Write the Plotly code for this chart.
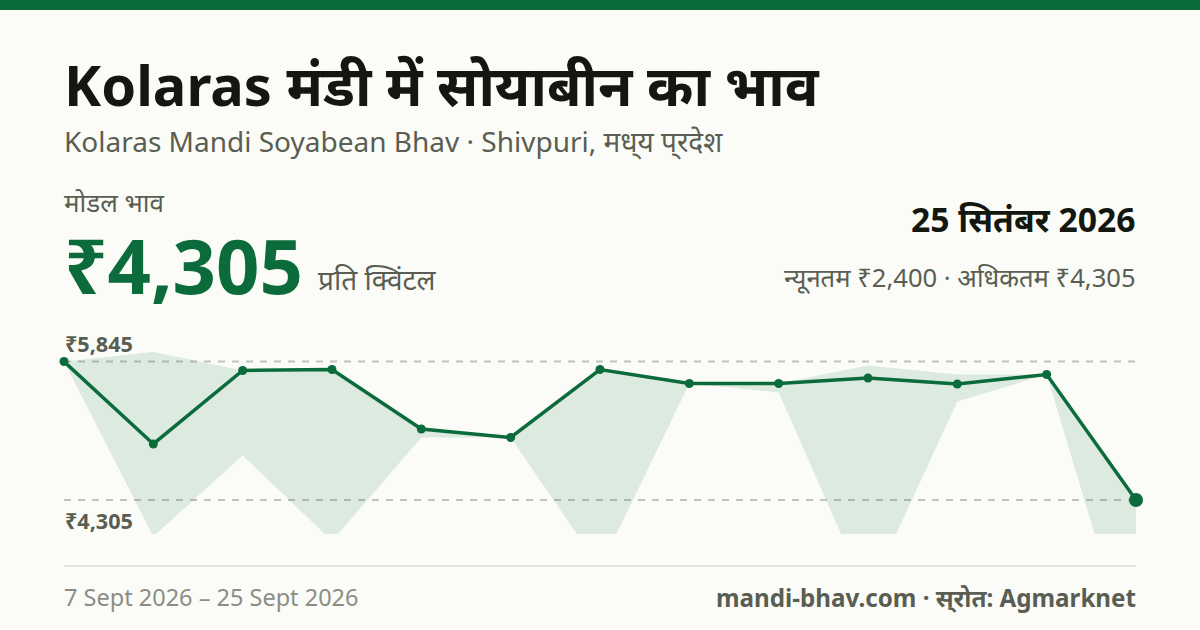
import plotly.graph_objects as go

# Data
sessions = list(range(13))
modal = [5845, 4928, 5745, 5756, 5095, 5000, 5756, 5600, 5600, 5662, 5595, 5700, 4305]
upper = [5845, 5950, 5745, 5756, 5095, 5000, 5756, 5600, 5600, 5800, 5700, 5700, 4305]
lower = [5845, 3900, 4800, 3850, 5000, 5000, 3550, 5600, 5500, 3250, 5400, 5700, 2400]
ref_high = 5845
ref_low = 4305
title = "Kolaras मंडी में सोयाबीन का भाव"
subtitle = "Kolaras Mandi Soyabean Bhav · Shivpuri, मध्\u200cय प्\u200cरदेश"
modal_label = "मोडल भाव"
headline = "₹4,305"
unit = "प्रति क्विंटल"
date_label = "25 सितंबर 2026"
range_label = "न्यूनतम ₹2,400 · अधिकतम ₹4,305"
period = "7 Sept 2026 – 25 Sept 2026"
source = "mandi-bhav.com · स्\u200cरोत: Agmarknet"

W, H = 1200, 630
L, R, T, B = 64, 1136, 340, 534
Y_HI, Y_LO = 361.5, 500
GREEN = "#0b6b3a"
BG = "#fbfcf8"
FONT = "Noto Sans, Noto Sans Devanagari, sans-serif"

per_px = (ref_high - ref_low) / (Y_LO - Y_HI)
y_range = [ref_low - (B - Y_LO) * per_px, ref_high + (Y_HI - T) * per_px]

px = lambda x: (x - L) / (R - L)
py = lambda y: (B - y) / (B - T)

fig = go.Figure()
fig.add_trace(go.Scatter(x=sessions, y=upper, mode="lines", line=dict(width=0),
                         hoverinfo="skip", showlegend=False))
fig.add_trace(go.Scatter(x=sessions, y=lower, mode="lines", line=dict(width=0),
                         fill="tonexty", fillcolor="rgba(11,107,58,0.12)",
                         hoverinfo="skip", showlegend=False))
for level in (ref_high, ref_low):
    fig.add_trace(go.Scatter(x=[sessions[0], sessions[-1]], y=[level, level], mode="lines",
                             line=dict(color="rgba(90,94,82,0.36)", width=2, dash="7px 7px"),
                             hoverinfo="skip", showlegend=False))
fig.add_trace(go.Scatter(x=sessions, y=modal, mode="lines+markers", cliponaxis=False,
                         line=dict(color=GREEN, width=3.5),
                         marker=dict(color=GREEN, size=[9] * 12 + [14], opacity=1, line=dict(width=0)),
                         showlegend=False))


def text(s, x, y, size, color, bold=False, anchor="left"):
    fig.add_annotation(x=px(x), y=py(y), xref="paper", yref="paper", text=f"<b>{s}</b>" if bold else s,
                       showarrow=False, xanchor=anchor, yanchor="middle", borderpad=0, borderwidth=0,
                       font=dict(family=FONT, size=size, color=color))


DARK = "#141710"
GREY = "#5a5e52"
text(title, 64, 84, 56, DARK, True)
text(subtitle, 64, 141, 28, GREY)
text(modal_label, 64, 202, 26, GREY)
text(headline, 64, 264, 76, GREEN, True)
text(unit, 318, 279, 28, GREY)
text(date_label, 1136, 219, 33.7, DARK, True, "right")
text(range_label, 1136, 277, 25.6, GREY, False, "right")
text(f"₹{ref_high:,}", 64.5, 343, 21.6, GREY, True)
text(f"₹{ref_low:,}", 64.5, 520, 21.6, GREY, True)
text(period, 64, 597, 23.5, "#8a8e84")
text(source, 1136, 597, 24.2, GREY, True, "right")

fig.add_shape(type="rect", xref="paper", yref="paper", x0=px(0), x1=px(W), y0=py(10), y1=py(0),
              fillcolor=GREEN, line_width=0)
fig.add_shape(type="line", xref="paper", yref="paper", x0=0, x1=1, y0=py(566), y1=py(566),
              line=dict(color="#e3e5de", width=2))

fig.update_layout(
    width=W, height=H, autosize=False,
    margin=dict(l=L, r=W - R, t=T, b=H - B),
    paper_bgcolor=BG, plot_bgcolor="rgba(0,0,0,0)",
    xaxis=dict(visible=False, range=[sessions[0], sessions[-1]]),
    yaxis=dict(visible=False, range=y_range),
    font=dict(family=FONT),
    showlegend=False,
)
fig.write_html("out.html", config=dict(displayModeBar=False),
               post_script="document.body.style.margin='0';document.body.style.overflow='hidden';document.body.style.background='%s';" % BG)
